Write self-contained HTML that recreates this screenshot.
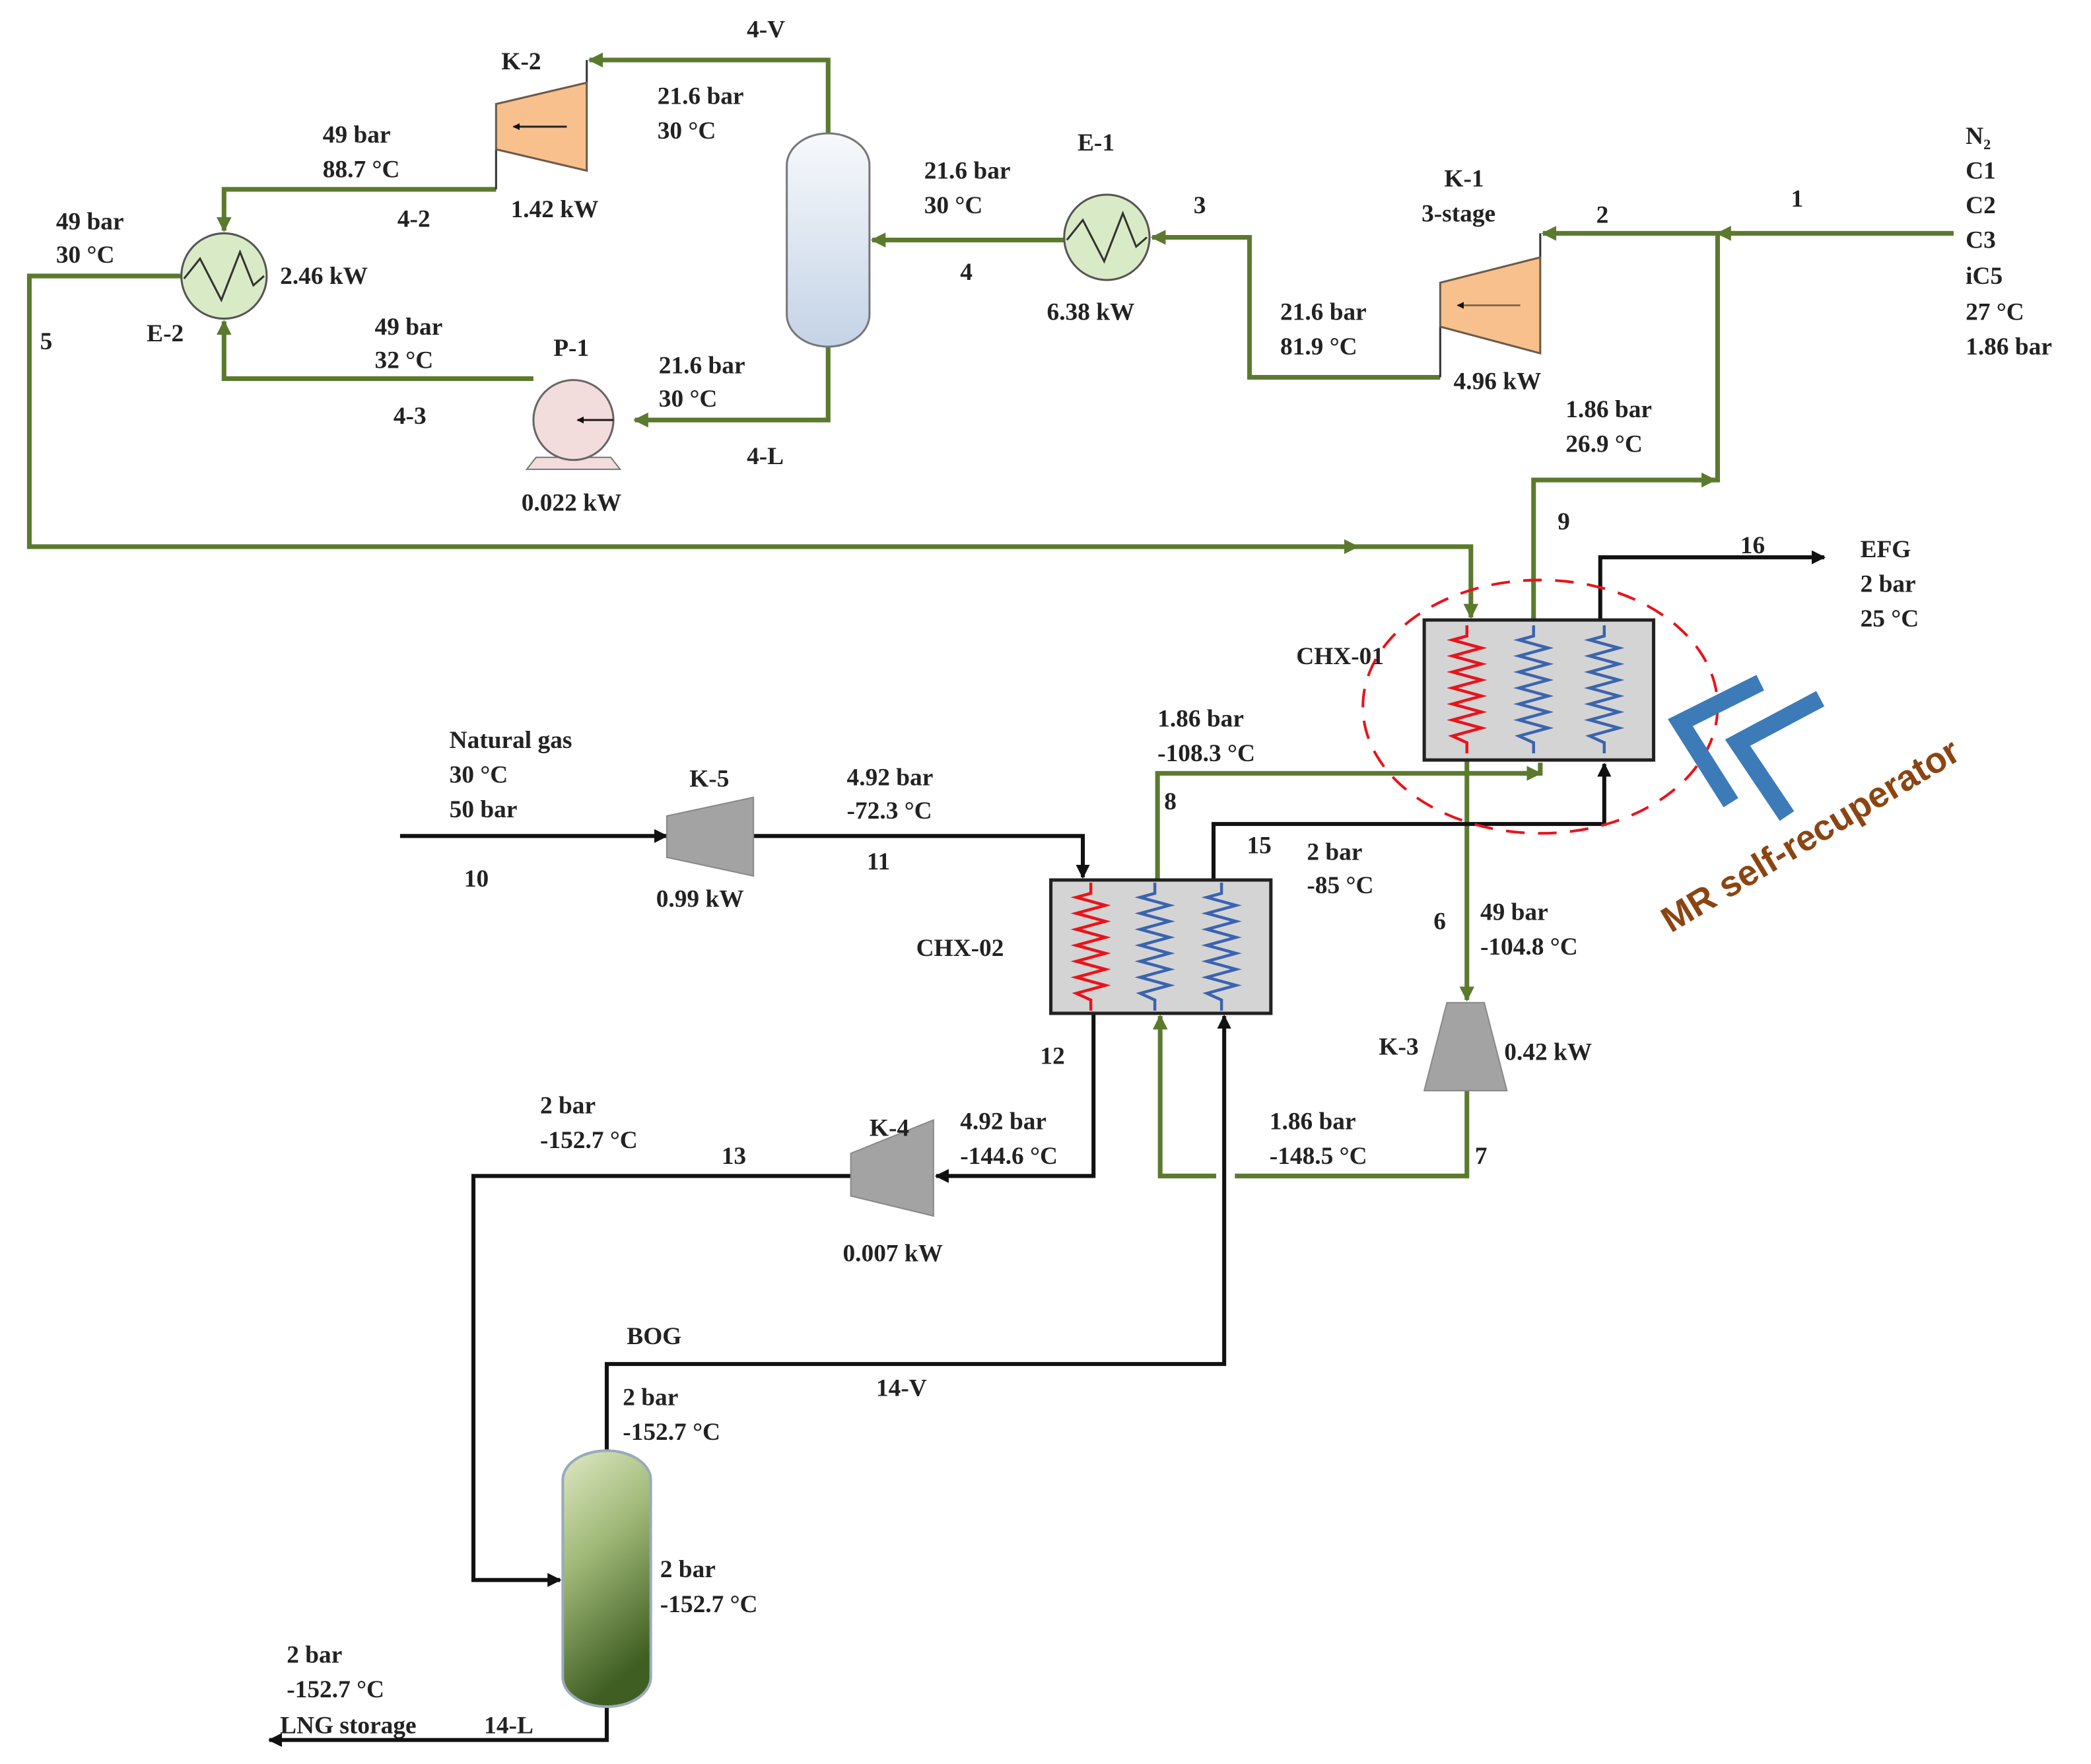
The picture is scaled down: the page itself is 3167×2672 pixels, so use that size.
<!DOCTYPE html>
<html><head><meta charset="utf-8"><style>
html,body{margin:0;padding:0;background:#fff;}
svg{display:block;}
text{font-family:"Liberation Serif",serif;font-weight:bold;font-size:18.5px;fill:#222;}
</style></head><body>
<svg width="3167" height="2672" viewBox="0 0 1568 1323" preserveAspectRatio="none" xmlns="http://www.w3.org/2000/svg">
<defs>
<marker id="ag" viewBox="0 0 10 10" refX="9" refY="5" markerWidth="3.2" markerHeight="3.2" orient="auto" markerUnits="strokeWidth"><path d="M0,0 L10,5 L0,10 z" fill="#5b7a2e"/></marker>
<marker id="ab" viewBox="0 0 10 10" refX="9" refY="5" markerWidth="3.5" markerHeight="3.5" orient="auto" markerUnits="strokeWidth"><path d="M0,0 L10,5 L0,10 z" fill="#111"/></marker>
<linearGradient id="drum" x1="0" y1="0" x2="0" y2="1"><stop offset="0" stop-color="#f7f9fc"/><stop offset="1" stop-color="#c4d3e6"/></linearGradient>
<linearGradient id="sep" x1="0" y1="0" x2="0.3" y2="1"><stop offset="0" stop-color="#dfe9c4"/><stop offset="0.45" stop-color="#9fb877"/><stop offset="1" stop-color="#3f5e22"/></linearGradient>
<polyline id="zz" points="0,-8 0,0 -11,3 11,9 -11,15 11,21 -11,27 11,33 -11,39 11,45 -11,51 11,57 -11,63 11,69 -11,75 0,80 0,88" fill="none" stroke-width="2.2"/>
</defs>

<g fill="none" stroke="#5b7a2e" stroke-width="3.5">
<polyline points="1465,175 1157,175" marker-end="url(#ag)"/>
<line x1="1300" y1="175" x2="1288" y2="175" marker-end="url(#ag)"/>
<polyline points="1150,465 1150,360 1288,360 1288,175"/>
<line x1="1270" y1="360" x2="1286" y2="360" marker-end="url(#ag)"/>
<polyline points="1080,283 937,283 937,178 864,178" marker-end="url(#ag)"/>
<polyline points="798,180 654,180" marker-end="url(#ag)"/>
<polyline points="621,100 621,45 442,45" marker-end="url(#ag)"/>
<polyline points="372,142 168,142 168,173" marker-end="url(#ag)"/>
<polyline points="621,260 621,315 476,315" marker-end="url(#ag)"/>
<polyline points="400,284 168,284 168,241" marker-end="url(#ag)"/>
<polyline points="136,207 22,207 22,410 1103,410 1103,463" marker-end="url(#ag)"/>
<line x1="1005" y1="410" x2="1018" y2="410" marker-end="url(#ag)"/>
<polyline points="1100,570 1100,750" marker-end="url(#ag)"/>
<polyline points="868,660 868,580 1155,580 1155,572" />
<line x1="1140" y1="580" x2="1155" y2="580" marker-end="url(#ag)"/>
<polyline points="1100,818 1100,882 870,882 870,762" marker-end="url(#ag)"/>
</g>
<rect x="912" y="872" width="14" height="20" fill="#fff"/>

<g fill="none" stroke="#111" stroke-width="3">
<polyline points="1200,465 1200,418 1368,418" marker-end="url(#ab)"/>
<polyline points="910,660 910,618 1203,618 1203,573" marker-end="url(#ab)"/>
<polyline points="300,627 500,627" marker-end="url(#ab)"/>
<polyline points="565,627 812,627 812,658" marker-end="url(#ab)"/>
<polyline points="820,760 820,882 702,882" marker-end="url(#ab)"/>
<polyline points="638,882 355,882 355,1185 420,1185" marker-end="url(#ab)"/>
<polyline points="455,1088 455,1023 918,1023 918,762" marker-end="url(#ab)"/>
<polyline points="455,1280 455,1305 202,1305" marker-end="url(#ab)"/>
</g>

<g stroke="#333" stroke-width="1.5">
<line x1="440" y1="45" x2="440" y2="62"/><line x1="372" y1="112" x2="372" y2="142"/>
<line x1="1155" y1="175" x2="1155" y2="193"/><line x1="1080" y1="245" x2="1080" y2="283"/>
</g>

<polygon points="372,78 440,62 440,128 372,112" fill="#f7c08c" stroke="#6b5a4a" stroke-width="1.5"/>
<line x1="425" y1="95" x2="385" y2="95" stroke="#222" stroke-width="1.5" marker-end="url(#ab)"/>
<polygon points="1080,212 1155,193 1155,265 1080,245" fill="#f7c08c" stroke="#6b5a4a" stroke-width="1.5"/>
<line x1="1140" y1="229" x2="1093" y2="229" stroke="#8a6a4a" stroke-width="1.5" marker-end="url(#ab)"/>
<polygon points="500,612 565,598 565,657 500,643" fill="#a3a3a3" stroke="#888" stroke-width="1"/>
<polygon points="638,865 700,840 700,912 638,897" fill="#a3a3a3" stroke="#888" stroke-width="1"/>
<polygon points="1085,752 1113,752 1130,818 1068,818" fill="#a3a3a3" stroke="#888" stroke-width="1"/>

<circle cx="830" cy="178" r="32" fill="#d9ebc6" stroke="#555" stroke-width="1.5"/>
<polyline points="800,180 812,165 828,196 842,160 852,185 860,178" fill="none" stroke="#333" stroke-width="1.5"/>
<circle cx="168" cy="207" r="32" fill="#d9ebc6" stroke="#555" stroke-width="1.5"/>
<polyline points="138,209 150,194 166,225 180,189 190,214 198,207" fill="none" stroke="#333" stroke-width="1.5"/>

<rect x="590" y="100" width="62" height="160" rx="31" ry="24" fill="url(#drum)" stroke="#777" stroke-width="1.5"/>
<rect x="422" y="1088" width="66" height="192" rx="33" ry="22" fill="url(#sep)" stroke="#9ab" stroke-width="2"/>

<polygon points="402,343 458,343 465,352 395,352" fill="#f2dcdc" stroke="#777" stroke-width="1"/>
<circle cx="430" cy="315" r="30" fill="#f2dcdc" stroke="#666" stroke-width="1.5"/>
<line x1="460" y1="315" x2="433" y2="315" stroke="#222" stroke-width="1.5" marker-end="url(#ab)"/>

<rect x="1068" y="465" width="172" height="105" fill="#d4d4d4" stroke="#222" stroke-width="2.5"/>
<use href="#zz" transform="translate(1100,477)" stroke="#e8131b"/>
<use href="#zz" transform="translate(1150,477)" stroke="#3a63b0"/>
<use href="#zz" transform="translate(1203,477)" stroke="#3a63b0"/>
<rect x="788" y="660" width="165" height="100" fill="#d4d4d4" stroke="#222" stroke-width="2.5"/>
<use href="#zz" transform="translate(818,670)" stroke="#e8131b"/>
<use href="#zz" transform="translate(866,670)" stroke="#3a63b0"/>
<use href="#zz" transform="translate(916,670)" stroke="#3a63b0"/>

<ellipse cx="1155" cy="530" rx="133" ry="95" fill="none" stroke="#e8131b" stroke-width="2" stroke-dasharray="14,10"/>
<polyline points="1320,512 1260,542 1298,602" fill="none" stroke="#3d7ab8" stroke-width="13"/>
<polyline points="1365,524 1303,557 1340,612" fill="none" stroke="#3d7ab8" stroke-width="13"/>
<text x="1253" y="700" transform="rotate(-31 1253 700)" style="font-family:'Liberation Sans',sans-serif;font-size:27px;fill:#8b4513">MR self-recuperator</text>

<text x="560" y="28">4-V</text>
<text x="376" y="52">K-2</text>
<text x="493" y="78">21.6 bar</text><text x="493" y="104">30 °C</text>
<text x="242" y="107">49 bar</text><text x="242" y="133">88.7 °C</text>
<text x="383" y="163">1.42 kW</text>
<text x="298" y="170">4-2</text>
<text x="42" y="172">49 bar</text><text x="42" y="197">30 °C</text>
<text x="210" y="213">2.46 kW</text>
<text x="110" y="256">E-2</text>
<text x="30" y="262">5</text>
<text x="281" y="251">49 bar</text><text x="281" y="276">32 °C</text>
<text x="415" y="267">P-1</text>
<text x="295" y="318">4-3</text>
<text x="494" y="280">21.6 bar</text><text x="494" y="305">30 °C</text>
<text x="560" y="348">4-L</text>
<text x="391" y="383">0.022 kW</text>
<text x="808" y="113">E-1</text>
<text x="693" y="134">21.6 bar</text><text x="693" y="160">30 °C</text>
<text x="895" y="160">3</text>
<text x="720" y="210">4</text>
<text x="785" y="240">6.38 kW</text>
<text x="1083" y="140">K-1</text><text x="1066" y="166">3-stage</text>
<text x="1197" y="167">2</text>
<text x="1343" y="155">1</text>
<text x="1474" y="108">N<tspan font-size="11" dy="4">2</tspan></text>
<text x="1474" y="134">C1</text><text x="1474" y="160">C2</text><text x="1474" y="186">C3</text>
<text x="1474" y="213">iC5</text><text x="1474" y="240">27 °C</text><text x="1474" y="266">1.86 bar</text>
<text x="960" y="240">21.6 bar</text><text x="960" y="266">81.9 °C</text>
<text x="1090" y="292">4.96 kW</text>
<text x="1174" y="313">1.86 bar</text><text x="1174" y="339">26.9 °C</text>
<text x="1168" y="397">9</text>
<text x="1305" y="415">16</text>
<text x="1395" y="418">EFG</text><text x="1395" y="444">2 bar</text><text x="1395" y="470">25 °C</text>
<text x="972" y="498" font-size="23">CHX-01</text>
<text x="868" y="545">1.86 bar</text><text x="868" y="571">-108.3 °C</text>
<text x="337" y="561">Natural gas</text><text x="337" y="587">30 °C</text><text x="337" y="613">50 bar</text>
<text x="517" y="590">K-5</text>
<text x="635" y="589">4.92 bar</text><text x="635" y="614">-72.3 °C</text>
<text x="873" y="607">8</text>
<text x="935" y="640">15</text>
<text x="980" y="645">2 bar</text><text x="980" y="670">-85 °C</text>
<text x="348" y="665">10</text>
<text x="650" y="652">11</text>
<text x="492" y="680">0.99 kW</text>
<text x="687" y="717" font-size="23">CHX-02</text>
<text x="1075" y="697">6</text>
<text x="1110" y="690">49 bar</text><text x="1110" y="716">-104.8 °C</text>
<text x="1034" y="791">K-3</text>
<text x="1128" y="795">0.42 kW</text>
<text x="780" y="798">12</text>
<text x="405" y="835">2 bar</text><text x="405" y="861">-152.7 °C</text>
<text x="652" y="852">K-4</text>
<text x="720" y="847">4.92 bar</text><text x="720" y="873">-144.6 °C</text>
<text x="952" y="847">1.86 bar</text><text x="952" y="873">-148.5 °C</text>
<text x="541" y="873">13</text>
<text x="1106" y="873">7</text>
<text x="632" y="946">0.007 kW</text>
<text x="470" y="1008">BOG</text>
<text x="657" y="1047">14-V</text>
<text x="467" y="1054">2 bar</text><text x="467" y="1080">-152.7 °C</text>
<text x="495" y="1183">2 bar</text><text x="495" y="1209">-152.7 °C</text>
<text x="215" y="1247">2 bar</text><text x="215" y="1273">-152.7 °C</text>
<text x="210" y="1300">LNG storage</text>
<text x="363" y="1300">14-L</text>
</svg>
</body></html>
